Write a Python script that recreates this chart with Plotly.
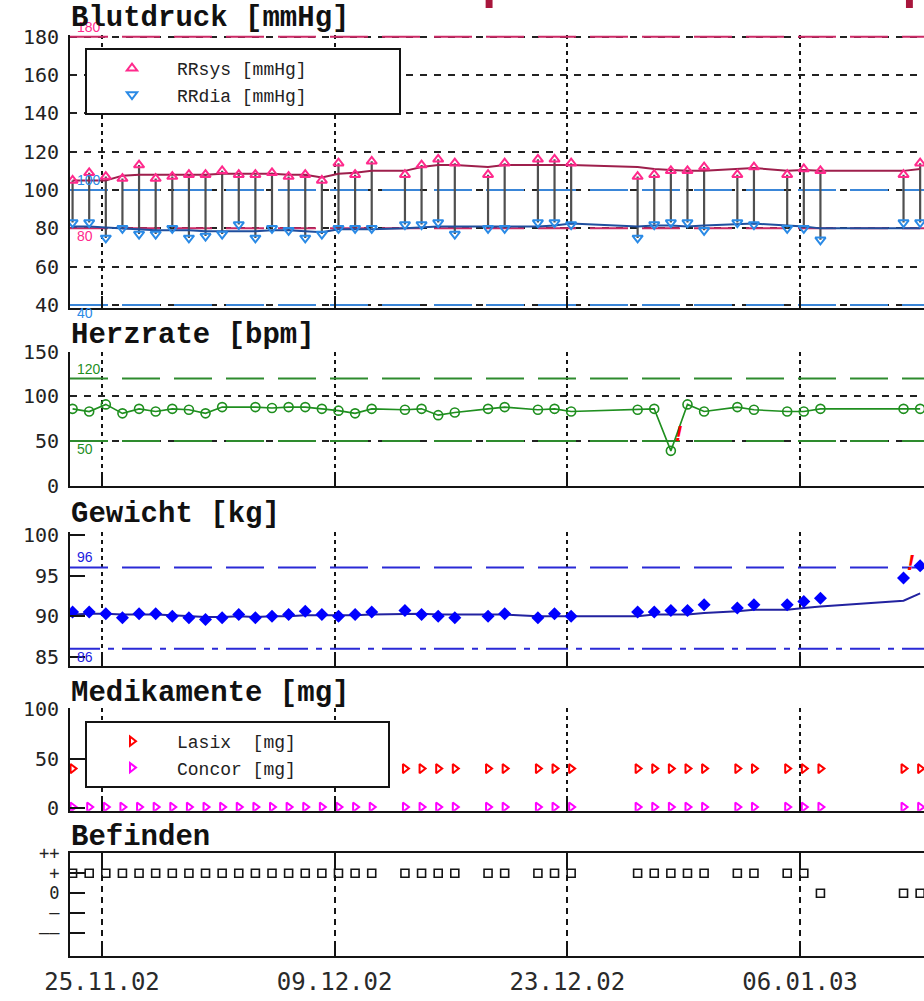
from datetime import datetime, timedelta
import plotly.graph_objects as go

# ------------------------------------------------------------------ data
dates = [
    "2002-11-23", "2002-11-24", "2002-11-25", "2002-11-26", "2002-11-27", "2002-11-28",
    "2002-11-29", "2002-11-30", "2002-12-01", "2002-12-02", "2002-12-03", "2002-12-04",
    "2002-12-05", "2002-12-06", "2002-12-07", "2002-12-08", "2002-12-09", "2002-12-10",
    "2002-12-11", "2002-12-13", "2002-12-14", "2002-12-15", "2002-12-16", "2002-12-18",
    "2002-12-19", "2002-12-21", "2002-12-22", "2002-12-23", "2002-12-27", "2002-12-28",
    "2002-12-29", "2002-12-30", "2002-12-31", "2003-01-02", "2003-01-03", "2003-01-05",
    "2003-01-06", "2003-01-07", "2003-01-12", "2003-01-13",
]
measure_time = "05:30"

rr_sys = [105, 109, 107, 106, 113, 106, 107, 108, 108, 110, 108, 108, 109, 107, 108, 105,
          114, 108, 115, 108, 113, 116, 114, 108, 114, 116, 116, 114, 107, 108, 110, 110,
          112, 108, 112, 108, 111, 110, 108, 114]
rr_dia = [83, 83, 75, 80, 77, 77, 80, 75, 76, 77, 82, 75, 80, 79, 75, 77,
          80, 80, 80, 82, 82, 83, 77, 80, 80, 83, 83, 82, 75, 82, 83, 83,
          79, 83, 82, 80, 80, 74, 83, 83]
rr_sys_trend = [105, 105, 105, 107.5, 108, 108, 108, 108, 108, 108.5, 108.5, 108.5, 108.5, 108,
                108, 106.5, 108.5, 109, 110, 110, 112, 113, 113, 112, 113, 113, 113, 113,
                112, 111, 110.5, 110, 110, 111, 111.5, 110, 110.5, 110, 110, 111]
rr_dia_trend = [81, 81, 80.5, 80, 79.5, 79, 79, 79, 78.5, 78.5, 78.5, 78.5, 79, 79, 78.5, 78,
                79.5, 79.5, 79.5, 80, 80.5, 81, 81, 81, 81, 81, 81.5, 82.5, 81, 81.5, 81.5,
                81, 81.5, 82, 82.5, 81.5, 81, 80, 80, 80]
heart_rate = [86, 83, 91, 81, 86, 83, 86, 85, 81, 88, None, 88, 87, 88, 88, 86, 84, 81, 86,
              85, 86, 79, 82, 86, 88, 85, 86, 83, 85, 86, 39, 91, 83, 88, 85, 83, 83, 86,
              86, 86]
weight = [90.5, 90.5, 90.3, 89.8, 90.3, 90.3, 90.0, 89.8, 89.6, 89.8, 90.2, 89.8, 90.0, 90.2,
          90.6, 90.2, 90.0, 90.2, 90.5, 90.7, 90.2, 90.0, 89.8, 90.0, 90.3, 89.8, 90.3, 90.0,
          90.5, 90.5, 90.7, 90.7, 91.4, 91.0, 91.4, 91.4, 91.8, 92.2, 94.7, 96.2]
weight_trend = [90.2, 90.3, 90.3, 90.2, 90.2, 90.2, 90.1, 90.0, 89.9, 89.9, 90.0, 89.9, 90.0,
                90.0, 90.1, 90.1, 90.1, 90.1, 90.2, 90.3, 90.3, 90.2, 90.2, 90.2, 90.2, 90.0,
                90.0, 90.0, 90.0, 90.2, 90.2, 90.2, 90.4, 90.6, 90.8, 90.8, 91.0, 91.2, 91.9,
                92.8]
lasix_mg = [40] * 40
concor_mg = [1.25] * 40
befinden = [1] * 37 + [0, 0, 0]

sys_limits = [180, 80]
dia_limits = [100, 40]
hr_limits = [120, 50]
weight_limits = [96, 86]
event_times = ["2002-12-18 07:00", "2003-01-12 14:00"]
hr_alarm_dates = ["2002-12-29"]
weight_alarm_dates = ["2003-01-12", "2003-01-13"]

tick_dates = ["2002-11-25", "2002-12-09", "2002-12-23", "2003-01-06"]
x_range = ["2002-11-23 01:47", "2003-01-13 11:04"]
bp_ticks = [40, 60, 80, 100, 120, 140, 160, 180]
hr_ticks = [0, 50, 100, 150]
wt_ticks = [85, 90, 95, 100]
med_ticks = [0, 50, 100]
bef_ticks = [2, 1, 0, -1, -2]
bef_labels = ["++", "+", "0", "\u2013", "\u2013\u2013"]

# ------------------------------------------------------------------ helpers
W, H = 924, 1001
def px(p):
    return p / W
def py(p):
    return 1 - p / H

x = [d + " " + measure_time for d in dates]
idx = {d: i for i, d in enumerate(dates)}
PAD = "\u00a0" * 8

BLACK = "#141414"
TICKFONT = dict(family="DejaVu Sans Mono", size=20, color="#222222")
PINK = "#ff2a8c"
PINK_LINE = "#cc2a66"
BLUE = "#2a8ae6"
BLUE_LINE = "#3a86d8"
GREEN = "#1f8f1f"
WBLUE = "#0000ff"
LONGDASH = "38px,14px"

fig = go.Figure()

def limit_line(axis_n, value, color, dash):
    sfx = "" if axis_n == 1 else str(axis_n)
    fig.add_trace(go.Scatter(x=x_range, y=[value, value], mode="lines",
                             line=dict(color=color, width=2, dash=dash),
                             showlegend=False, hoverinfo="skip",
                             xaxis="x" + sfx, yaxis="y" + sfx))

# ---- Blutdruck
limit_line(1, sys_limits[0], PINK_LINE, LONGDASH)
limit_line(1, sys_limits[1], PINK_LINE, LONGDASH)
limit_line(1, dia_limits[0], BLUE_LINE, LONGDASH)
limit_line(1, dia_limits[1], BLUE_LINE, LONGDASH)
cx, cy = [], []
for xi, s, d in zip(x, rr_sys, rr_dia):
    cx += [xi, xi, None]
    cy += [s, d, None]
fig.add_trace(go.Scatter(x=cx, y=cy, mode="lines", line=dict(color="#4f4f4f", width=2.2),
                         showlegend=False, hoverinfo="skip", xaxis="x", yaxis="y"))
fig.add_trace(go.Scatter(x=x, y=rr_sys_trend, mode="lines", line=dict(color="#9e1f4c", width=2),
                         showlegend=False, xaxis="x", yaxis="y"))
fig.add_trace(go.Scatter(x=x, y=rr_dia_trend, mode="lines", line=dict(color="#1f4f9e", width=2),
                         showlegend=False, xaxis="x", yaxis="y"))
fig.add_trace(go.Scatter(x=x, y=rr_sys, mode="markers", name="RRsys\u00a0[mmHg]" + PAD,
                         marker=dict(symbol="triangle-up-open", size=9, color=PINK,
                                     line=dict(width=2, color=PINK)),
                         xaxis="x", yaxis="y", legend="legend"))
fig.add_trace(go.Scatter(x=x, y=rr_dia, mode="markers", name="RRdia\u00a0[mmHg]" + PAD,
                         marker=dict(symbol="triangle-down-open", size=9, color=BLUE,
                                     line=dict(width=2, color=BLUE)),
                         xaxis="x", yaxis="y", legend="legend"))

# ---- Herzrate
limit_line(2, hr_limits[0], "#2e8b2e", LONGDASH)
limit_line(2, hr_limits[1], "#2e8b2e", LONGDASH)
fig.add_trace(go.Scatter(x=x, y=heart_rate, mode="lines+markers", connectgaps=True,
                         line=dict(color=GREEN, width=1.6),
                         marker=dict(symbol="circle-open", size=9, color=GREEN,
                                     line=dict(width=1.6, color=GREEN)),
                         showlegend=False, xaxis="x2", yaxis="y2"))

# ---- Gewicht
limit_line(3, weight_limits[0], "#2a2ad6", LONGDASH)
limit_line(3, weight_limits[1], "#2a2ad6", "30px,8px,6px,8px")
fig.add_trace(go.Scatter(x=x, y=weight_trend, mode="lines", line=dict(color="#2222a0", width=2),
                         showlegend=False, xaxis="x3", yaxis="y3"))
fig.add_trace(go.Scatter(x=x, y=weight, mode="markers",
                         marker=dict(symbol="diamond", size=10, color=WBLUE),
                         showlegend=False, xaxis="x3", yaxis="y3"))

# ---- Medikamente
fig.add_trace(go.Scatter(x=x, y=lasix_mg, mode="markers", name="Lasix\u00a0\u00a0[mg]" + PAD,
                         marker=dict(symbol="triangle-right-open", size=8, color="#ff0000",
                                     line=dict(width=2, color="#ff0000")),
                         xaxis="x4", yaxis="y4", legend="legend2"))
fig.add_trace(go.Scatter(x=x, y=concor_mg, mode="markers", name="Concor\u00a0[mg]" + PAD,
                         marker=dict(symbol="triangle-right-open", size=8, color="#ff00ff",
                                     line=dict(width=2, color="#ff00ff")),
                         xaxis="x4", yaxis="y4", legend="legend2"))

# ---- Befinden
fig.add_trace(go.Scatter(x=x, y=befinden, mode="markers",
                         marker=dict(symbol="square-open", size=8, color=BLACK,
                                     line=dict(width=1.6, color=BLACK)),
                         showlegend=False, xaxis="x5", yaxis="y5"))

# ------------------------------------------------------------------ axes
panels = [  # (top px, bottom px)
    (34.8, 307.9),
    (351.7, 485.7),
    (531.7, 665.7),
    (708.3, 810.7),
    (853.3, 956.0),
]

def xaxis(i, **kw):
    d = dict(type="date", range=x_range, domain=[px(70), 1], anchor="y" + ("" if i == 1 else str(i)),
             tickvals=tick_dates, tickformat="%d.%m.%y", automargin=False,
             showgrid=True, gridcolor=BLACK, gridwidth=2.2, griddash="4px,4px",
             showline=True, linecolor=BLACK, linewidth=2,
             ticks="inside", ticklen=12, tickwidth=2, tickcolor=BLACK,
             showticklabels=False, zeroline=False, fixedrange=True)
    d.update(kw)
    return d

def yaxis(i, rng, tv, **kw):
    top, bot = panels[i - 1]
    d = dict(domain=[py(bot), py(top)], range=rng, tickvals=tv, automargin=False,
             anchor="x" + ("" if i == 1 else str(i)),
             showline=True, linecolor=BLACK, linewidth=2, zeroline=False,
             showgrid=False, ticks="", tickfont=TICKFONT, ticklabelstandoff=5,
             fixedrange=True)
    d.update(kw)
    return d

GRID = dict(showgrid=True, gridcolor="#222222", gridwidth=2, griddash="7px,7px")
LEGFONT = dict(family="Liberation Mono", size=18, color="#222222")

layout = dict(
    template="none",
    width=W, height=H, margin=dict(l=0, r=0, t=0, b=0, pad=0, autoexpand=False),
    paper_bgcolor="white", plot_bgcolor="white", hovermode="closest",
    xaxis=xaxis(1),
    xaxis2=xaxis(2),
    xaxis3=xaxis(3),
    xaxis4=xaxis(4),
    xaxis5=xaxis(5, showticklabels=True, mirror="ticks", griddash="6px,5px",
                  tickfont=dict(family="DejaVu Sans Mono", size=24, color="#2a2a2a"),
                  ticklabelstandoff=3),
    yaxis=yaxis(1, [38.5, 181], bp_ticks, **GRID),
    yaxis2=yaxis(2, [0, 150], hr_ticks, **GRID),
    yaxis3=yaxis(3, [83.9, 100.4], wt_ticks, ticks="inside", ticklen=15, tickwidth=2,
                 tickcolor=BLACK),
    yaxis4=yaxis(4, [-2.4, 100.7], med_ticks, ticks="inside", ticklen=15, tickwidth=2,
                 tickcolor=BLACK),
    yaxis5=yaxis(5, [-3.15, 2], bef_ticks, ticktext=bef_labels, ticks="inside", ticklen=15,
                 tickwidth=2, tickcolor=BLACK,
                 tickfont=dict(family="DejaVu Sans Mono", size=17, color="#222222")),
    legend=dict(x=px(85), y=py(48), xanchor="left", yanchor="top", bgcolor="white",
                bordercolor=BLACK, borderwidth=2, itemwidth=80, tracegroupgap=0,
                font=LEGFONT),
    legend2=dict(x=px(85), y=py(721), xanchor="left", yanchor="top", bgcolor="white",
                 bordercolor=BLACK, borderwidth=2, itemwidth=80, tracegroupgap=0,
                 font=LEGFONT),
    showlegend=True,
)
fig.update_layout(**layout)

# ------------------------------------------------------------------ labels, markers
shapes = []
annotations = []

def limit_label(axis_n, value, color, above):
    yref = "y" + ("" if axis_n == 1 else str(axis_n))
    annotations.append(dict(xref="paper", x=px(75), xanchor="left", yref=yref, y=value,
                            yanchor="middle", yshift=10 if above else -8, text=str(value),
                            showarrow=False,
                            font=dict(family="Liberation Sans", size=14, color=color)))

limit_label(1, sys_limits[0], PINK, True)
limit_label(1, sys_limits[1], PINK, False)
limit_label(1, dia_limits[0], BLUE, True)
limit_label(1, dia_limits[1], BLUE, False)
limit_label(2, hr_limits[0], GREEN, True)
limit_label(2, hr_limits[1], GREEN, False)
limit_label(3, weight_limits[0], "#2020e0", True)
limit_label(3, weight_limits[1], "#2020e0", False)

# event markers at the top
half = timedelta(hours=5)
for t in event_times:
    tt = datetime.strptime(t, "%Y-%m-%d %H:%M")
    shapes.append(dict(type="rect", xref="x", x0=(tt - half).strftime("%Y-%m-%d %H:%M"),
                       x1=(tt + half).strftime("%Y-%m-%d %H:%M"),
                       yref="paper", y0=py(8), y1=1.0, fillcolor="#a8163c",
                       line=dict(width=0)))

# alarm marks
ALARM = dict(family="Liberation Sans", size=22, color="#ff0000", weight="bold", style="italic")
for d in hr_alarm_dates:
    i = idx[d]
    annotations.append(dict(xref="x2", yref="y2", x=x[i], y=heart_rate[i], xshift=8, yshift=17,
                            text="!", showarrow=False, font=ALARM))
for d in weight_alarm_dates:
    i = idx[d]
    annotations.append(dict(xref="x3", yref="y3", x=x[i], y=weight[i], xshift=7, yshift=15,
                            text="!", showarrow=False, font=ALARM))

# panel titles
titles = [("Blutdruck [mmHg]", 18), ("Herzrate [bpm]", 336), ("Gewicht [kg]", 514),
          ("Medikamente [mg]", 693), ("Befinden", 837)]
for text, ypix in titles:
    annotations.append(dict(xref="paper", yref="paper", x=px(69), y=py(ypix), xanchor="left",
                            yanchor="middle", text=text, showarrow=False,
                            font=dict(family="Liberation Mono", size=29, color="#111111",
                                      weight="bold")))

fig.update_layout(shapes=shapes, annotations=annotations)

fig.write_html("out.html", config={"displayModeBar": False},
               post_script="document.body.style.margin='0';document.body.style.overflow='hidden';")
